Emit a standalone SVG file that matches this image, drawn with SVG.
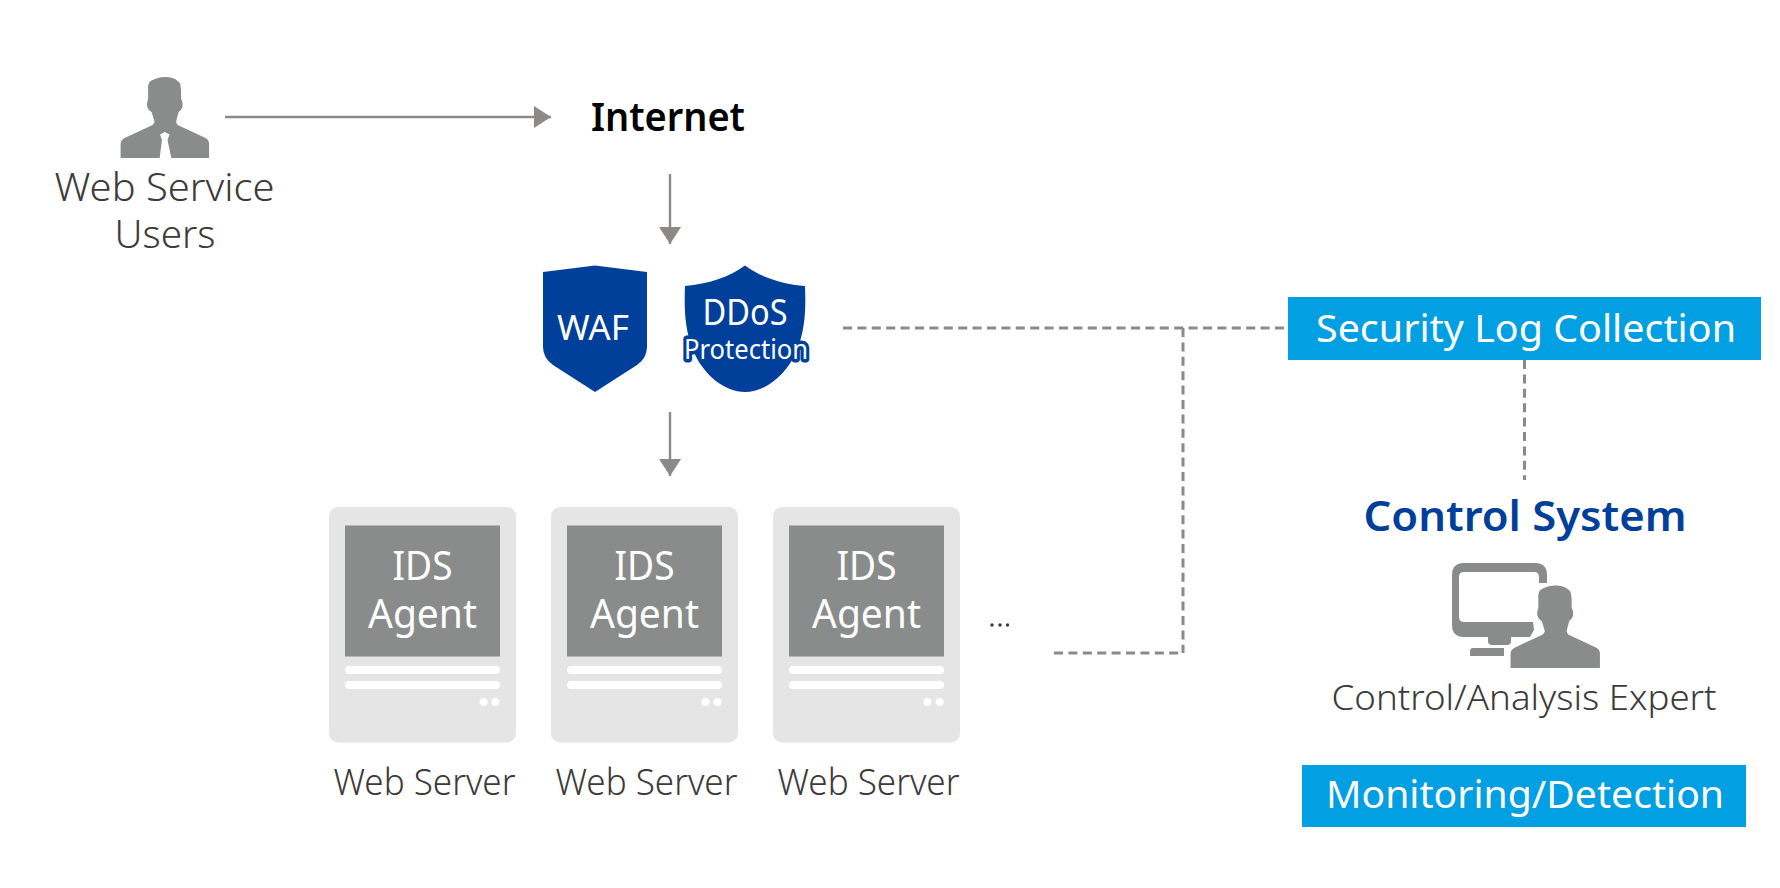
<svg xmlns="http://www.w3.org/2000/svg" width="1780" height="888" viewBox="0 0 1780 888">
<style>
text{font-family:"Noto Sans","Open Sans","Liberation Sans",sans-serif;text-anchor:middle}
.lab{fill:#3e3a39;font-weight:300}
.big{font-size:38px}
.wh{fill:#fff;font-weight:400}
.wl{fill:#fff;font-weight:400}
.icon{fill:#8a8c8b}
.srv{fill:#e5e5e5}
.bar{fill:#fff}
.cy{fill:#029fe2}
.sh{fill:#00409a}
.arrow{stroke:#8c8a87;stroke-width:2.4;fill:none}
.dash{stroke:#8c8a87;stroke-width:3;fill:none;stroke-dasharray:9 5.4}
.tip{fill:#8c8a87}
</style>
<defs>
<marker id="head" markerUnits="userSpaceOnUse" markerWidth="18" markerHeight="24" refX="17" refY="12" orient="auto"><path class="tip" d="M0 1L17 12L0 23Z"/></marker>
<path id="man" d="M0 0C6 0 10 1 13 4C16 6 16 8 16.500 14L16.500 22C18 24 18.500 28 17.500 31C16.500 33 15 34 14 35C13 39 12 42 11.500 45L13 48L41 61Q44.500 63 44.500 67V81H-44V67Q-44 63 -40 61L-12 48L-10 45C-11 42 -12 38 -13 35C-15 34 -17 32 -17.500 29C-18 26 -17 24 -16.500 22V12C-17 7 -15 4 -12 3C-8 1 -4 0 0 0Z"/>
<g id="server">
<rect class="srv" x="329" y="507" width="187" height="235.500" rx="9"/>
<rect class="icon" x="345" y="525.500" width="155" height="131"/>
<rect class="bar" x="345" y="666" width="155" height="8" rx="4"/>
<rect class="bar" x="345" y="681" width="155" height="8" rx="4"/>
<circle class="bar" cx="483.500" cy="702" r="4"/>
<circle class="bar" cx="495.500" cy="702" r="4"/>
<text class="wl" x="422.500" y="580" font-size="40" textLength="60" lengthAdjust="spacingAndGlyphs">IDS</text>
<text class="wl" x="422.500" y="628" font-size="40" textLength="109" lengthAdjust="spacingAndGlyphs">Agent</text>
<text class="lab" x="424.500" y="795" font-size="36" textLength="182" lengthAdjust="spacingAndGlyphs">Web Server</text>
</g>
</defs>
<g id="connectors">
<path class="arrow" d="M225 117H551" marker-end="url(#head)"/>
<path class="arrow" d="M670 174V244" marker-end="url(#head)"/>
<path class="arrow" d="M670 412V476" marker-end="url(#head)"/>
<path class="dash" d="M843 328H1286"/>
<path class="dash" d="M1183 328V653"/>
<path class="dash" d="M1054 653H1183"/>
<path class="dash" d="M1524.500 360V480"/>
</g>
<g id="web-users">
<use href="#man" x="164.600" y="77" class="icon"/>
<path fill="#fff" d="M160 134.500L164.700 132L169.500 134.500L167.500 140L171.500 159H159.500L162 140Z"/>
<text class="lab big" x="164.500" y="201" textLength="220" lengthAdjust="spacingAndGlyphs">Web Service</text>
<text class="lab big" x="165" y="248" textLength="101" lengthAdjust="spacingAndGlyphs">Users</text>
</g>
<g id="internet"><text x="668" y="131" font-size="40" font-weight="600" fill="#000" textLength="154" lengthAdjust="spacingAndGlyphs">Internet</text></g>
<g id="waf">
<path class="sh" d="M543 272L595 265.500L647 272V347Q647 358 637 365L595 392L553 365Q543 358 543 347Z"/>
<text class="wh" x="593" y="340" font-size="35" textLength="72" lengthAdjust="spacingAndGlyphs">WAF</text>
</g>
<g id="ddos">
<path class="sh" d="M745 265.500C730 277 708 284 685 286C684 310 685 330 693 350C703 375 725 392 745 392C765 392 787 375 797 350C805 330 806 310 805 286C782 284 760 277 745 265.500Z"/>
<text class="wh" x="745" y="325" font-size="37" textLength="85" lengthAdjust="spacingAndGlyphs">DDoS</text>
<text x="746" y="359" font-size="28" fill="#fff" stroke="#00409a" stroke-width="7" stroke-linejoin="round" paint-order="stroke" textLength="124" lengthAdjust="spacingAndGlyphs">Protection</text>
</g>
<g id="server-1"><use href="#server"/></g>
<g id="server-2"><use href="#server" x="222"/></g>
<g id="server-3"><use href="#server" x="444"/></g>
<g id="more"><circle cx="992" cy="625" r="1.700" fill="#3e3a39"/><circle cx="1000" cy="625" r="1.700" fill="#3e3a39"/><circle cx="1007.500" cy="625" r="1.700" fill="#3e3a39"/></g>
<g id="security-log">
<rect class="cy" x="1288" y="297" width="473" height="63"/>
<text class="wl" x="1526" y="342" font-size="39" textLength="420" lengthAdjust="spacingAndGlyphs">Security Log Collection</text>
</g>
<g id="control-system"><text x="1525" y="531" font-size="42" font-weight="600" fill="#00409a" textLength="323" lengthAdjust="spacingAndGlyphs">Control System</text></g>
<g id="expert">
<path class="icon" d="M1547 583V575Q1547 563 1535 563H1464Q1452 563 1452 575V625Q1452 637 1464 637H1488V641Q1488 645 1492 645H1507Q1511 645 1511 641V637H1530L1534 630L1533 622H1464Q1459 622 1459 617V577Q1459 572 1464 572H1534Q1539 572 1539 577V583Z"/>
<path class="icon" d="M1473 648H1504V656H1470V651Q1470 648 1473 648Z"/>
<use href="#man" class="icon" transform="translate(1555 585.500) scale(1.010 1.020)"/>
<text class="lab" x="1524" y="710" font-size="35" textLength="385" lengthAdjust="spacingAndGlyphs">Control/Analysis Expert</text>
</g>
<g id="monitoring">
<rect class="cy" x="1302" y="765" width="444" height="62"/>
<text class="wl" x="1525" y="808" font-size="39" textLength="398" lengthAdjust="spacingAndGlyphs">Monitoring/Detection</text>
</g>
</svg>
